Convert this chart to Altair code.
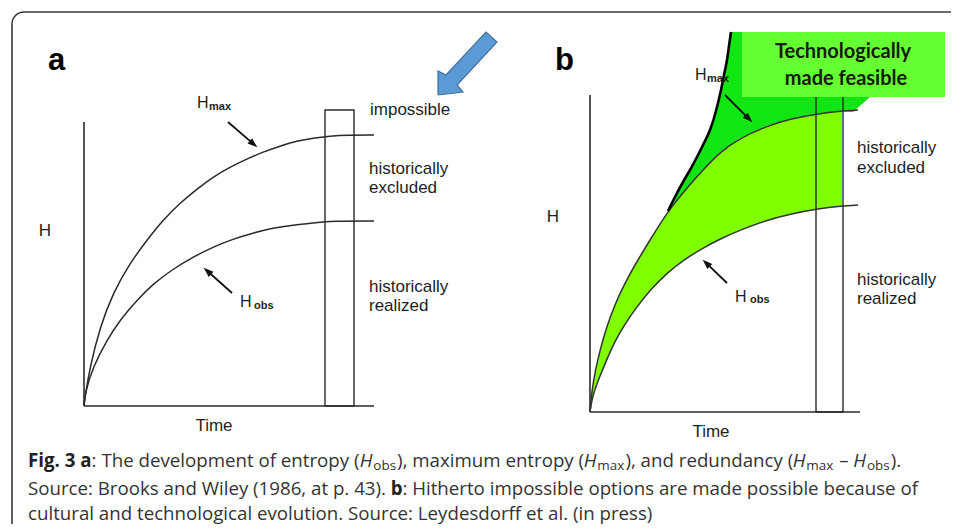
import math
import altair as alt
import pandas as pd

# ------------------------------------------------------------------
# Values (page pixel units, y downward)
# ------------------------------------------------------------------
# Panel a : H_max and H_obs over time
a_time_hmax = [84, 85, 90, 100, 113, 130, 147, 163, 180, 197, 213, 230, 247, 263, 280, 297, 313, 330, 347, 374]
a_hmax = [406, 397, 367, 327, 293, 263, 240, 220, 203, 189, 177, 167, 159, 152, 146, 141, 138, 136, 135, 135]
a_time_hobs = [84, 85, 93, 107, 120, 137, 153, 173, 193, 213, 233, 253, 273, 293, 313, 333, 374]
a_hobs = [406, 393, 367, 340, 320, 300, 284, 269, 257, 247, 239, 233, 228, 225, 223, 221, 221]

# Panel b : old H_max and H_obs on a common time grid
b_time = [590, 592, 595, 600, 607, 615, 625, 636, 650, 668, 685, 703, 720, 740, 767, 790, 817, 842, 858]
b_hmax_old = [412, 390, 372, 350, 326, 304, 283, 263, 240, 211, 190, 170, 152, 138, 126, 119, 114, 111, 110]
b_hobs = [412, 399, 389, 376, 359, 341, 324, 308, 290, 272, 259, 248, 239, 230, 220, 214, 209, 206, 205]
# technologically extended H_max
b_new_time = [668, 676, 683, 690, 697, 703, 710, 714, 718, 721, 724, 727, 729, 731]
b_new_hmax = [211, 195, 182, 170, 157, 145, 130, 118, 103, 90, 75, 60, 46, 32]
# corner of the feasible region (under the label box)
feasible_corner_x = [880, 870, 853]
feasible_corner_y = [32, 97, 112]

# frames (axes, boxes)
axis_x1 = [84, 84, 590, 590]
axis_y1 = [122, 406, 95, 412]
axis_x2 = [84, 374, 590, 860]
axis_y2 = [406, 406, 412, 412]
window_x1 = [325, 816]
window_x2 = [354, 843]
window_y1 = [110, 82]
window_y2 = [406, 412]

# arrows (tail -> tip)
arrow_tail_x = [228, 232, 725, 727]
arrow_tail_y = [122, 293, 95, 283]
arrow_tip_x = [257, 204, 752, 703]
arrow_tip_y = [147, 268, 122, 260]

# blue block arrow outline
blue_x = [438, 463, 457, 497, 486, 446, 438, 438]
blue_y = [95, 92, 85, 42, 32, 75, 71, 95]

# text labels
side_text = ["impossible", "historically", "excluded", "historically", "realized",
             "historically", "excluded", "historically", "realized"]
side_x = [370, 369, 369, 369, 369, 857, 857, 857, 857]
side_y = [115, 174, 193, 292, 311, 153, 173, 285, 304]

center_text = ["Time", "Time", "H", "H"]
center_x = [214, 711, 45, 553]
center_y = [431, 437, 236, 222]

curve_h_x = [197, 240, 695, 735]
curve_h_y = [108, 307, 80, 302]
curve_sub_text = ["max", "obs", "max", "obs"]
curve_sub_x = [209, 254, 707, 750]
curve_sub_y = [110, 309, 82, 303]

panel_text = ["a", "b"]
panel_x = [48, 555]
panel_y = [70, 70]

box_text = ["Technologically", "made feasible"]
box_x = [843, 846]
box_y = [58, 85]

cap1_text = ["Fig. 3 a", ": The development of entropy (", "H", "obs", "), maximum entropy (",
             "H", "max", "), and redundancy (", "H", "max", " – ", "H", "obs", ")."]
cap1_style = ["bold", "reg", "ital", "sub", "reg", "ital", "sub", "reg", "ital", "sub",
              "reg", "ital", "sub", "reg"]
cap2_text = ["Source: Brooks and Wiley (1986, at p. 43). ", "b",
             ": Hitherto impossible options are made possible because of"]
cap2_style = ["reg", "bold", "reg"]
cap3_text = ["cultural and technological evolution. Source: Leydesdorff et al. (in press)"]
cap3_style = ["reg"]

# ------------------------------------------------------------------
# Caption layout (Open Sans advance widths, units per em = 2048)
# ------------------------------------------------------------------
CAP_SIZE = 18.7
SUB_SCALE = 0.72
SUB_DROP = 3
REG = {' ': 532, '(': 578, ')': 578, ',': 502, '.': 545, ':': 545, '–': 1024,
       'B': 1327, 'F': 1057, 'H': 1511, 'L': 1063, 'S': 1124, 'T': 1133, 'W': 1896,
       'a': 1139, 'b': 1255, 'c': 975, 'd': 1255, 'e': 1149, 'f': 694, 'g': 1122,
       'h': 1257, 'i': 518, 'k': 1075, 'l': 518, 'm': 1905, 'n': 1257, 'o': 1237,
       'p': 1255, 'r': 836, 's': 977, 't': 723, 'u': 1257, 'v': 1026, 'x': 1073,
       'y': 1028, 'z': 977}
for d in "0123456789":
    REG[d] = 1171
BOLD = {' ': 532, 'F': 1145, 'i': 621, 'g': 1153, '.': 606, '3': 1171, 'a': 1208, 'b': 1286}
ITAL = {'H': 1489}


def text_width(s, style):
    if style == "bold":
        units = sum(BOLD.get(c, REG.get(c, 1150) * 1.05) for c in s)
        return units / 2048 * CAP_SIZE
    if style == "ital":
        units = sum(ITAL.get(c, REG.get(c, 1150)) for c in s)
        return units / 2048 * CAP_SIZE
    if style == "sub":
        units = sum(REG.get(c, 1150) for c in s)
        return units / 2048 * CAP_SIZE * SUB_SCALE
    units = sum(REG.get(c, 1150) for c in s)
    return units / 2048 * CAP_SIZE


cap_rows = []
for texts, styles, base in [(cap1_text, cap1_style, 467), (cap2_text, cap2_style, 495),
                            (cap3_text, cap3_style, 520)]:
    cx = 28.0
    for t, s in zip(texts, styles):
        lead = len(t) - len(t.lstrip(" "))
        x0 = cx + text_width(" " * lead, s)
        cap_rows.append({"x": x0, "y": base + (SUB_DROP if s == "sub" else 0), "text": t.strip(" "),
                         "style": s})
        cx += text_width(t, s) + (1.0 if s == "sub" else 0)
cap_df = pd.DataFrame(cap_rows)

# ------------------------------------------------------------------
# Scales: one unit = one page pixel
# ------------------------------------------------------------------
X = alt.X("x:Q", scale=alt.Scale(domain=[8, 951], nice=False, zero=False), axis=None)
Y = alt.Y("y:Q", scale=alt.Scale(domain=[8, 524], nice=False, zero=False, reverse=True), axis=None)

INK = "#2a2a2a"
layers = []

# outer rounded frame
frame_df = pd.DataFrame({"x": [12], "x2": [985], "y": [12], "y2": [570]})
layers.append(alt.Chart(frame_df).mark_rect(filled=False, stroke="#3a3a3a", strokeWidth=1.6,
                                            cornerRadius=12).encode(x=X, x2="x2:Q", y=Y, y2="y2:Q"))

# ---- panel b fills ----
poly_x = b_new_time + feasible_corner_x + [t for t in reversed(b_time) if 668 <= t <= 842]
poly_y = b_new_hmax + feasible_corner_y + [h for t, h in zip(reversed(b_time), reversed(b_hmax_old)) if 668 <= t <= 842]
poly_df = pd.DataFrame({"x": poly_x, "y": poly_y, "i": range(len(poly_x))})
layers.append(alt.Chart(poly_df).mark_line(fill="#12e612", strokeWidth=0, interpolate="linear")
              .encode(x=X, y=Y, order="i:Q"))

band_df = pd.DataFrame({"x": b_time, "y": b_hmax_old, "y2": b_hobs})
band_df = band_df[band_df["x"] <= 842]
layers.append(alt.Chart(band_df).mark_area(color="#80ff00", opacity=1, interpolate="basis")
              .encode(x=X, y=Y, y2="y2:Q"))

# ---- frames / axes ----
win_df = pd.DataFrame({"x": window_x1, "x2": window_x2, "y": window_y1, "y2": window_y2})
layers.append(alt.Chart(win_df).mark_rect(filled=False, stroke=INK, strokeWidth=1.4)
              .encode(x=X, x2="x2:Q", y=Y, y2="y2:Q"))
ax_df = pd.DataFrame({"x": axis_x1, "y": axis_y1, "x2": axis_x2, "y2": axis_y2})
layers.append(alt.Chart(ax_df).mark_rule(color=INK, strokeWidth=1.6)
              .encode(x=X, y=Y, x2="x2:Q", y2="y2:Q"))

# ---- curves ----
def curve(xs, ys, color, width, interp="basis"):
    df = pd.DataFrame({"x": xs, "y": ys, "i": range(len(xs))})
    return alt.Chart(df).mark_line(color=color, strokeWidth=width, interpolate=interp).encode(
        x=X, y=Y, order="i:Q")

layers.append(curve(a_time_hmax, a_hmax, INK, 1.5))
layers.append(curve(a_time_hobs, a_hobs, INK, 1.5))
layers.append(curve(b_time, b_hmax_old, "#333333", 1.5))
layers.append(curve(b_time, b_hobs, "#333333", 1.5))
layers.append(curve(b_new_time, b_new_hmax, "#000000", 2.6, "monotone"))

# ---- label box ----
box_df = pd.DataFrame({"x": [742], "x2": [945], "y": [32], "y2": [97]})
layers.append(alt.Chart(box_df).mark_rect(color="#66ff33").encode(x=X, x2="x2:Q", y=Y, y2="y2:Q"))
layers.append(alt.Chart(pd.DataFrame({"x": box_x, "y": box_y, "text": box_text}))
              .mark_text(font="Lato", fontWeight="bold", fontSize=20, color="#102008",
                         align="center", baseline="alphabetic")
              .encode(x=X, y=Y, text="text:N"))

# ---- black arrows ----
arr = pd.DataFrame({"tx": arrow_tail_x, "ty": arrow_tail_y, "hx": arrow_tip_x, "hy": arrow_tip_y})
dx = arr["hx"] - arr["tx"]
dy = arr["hy"] - arr["ty"]
ln = (dx ** 2 + dy ** 2) ** 0.5
ux, uy = dx / ln, dy / ln
shaft = pd.DataFrame({"x": arr["tx"], "y": arr["ty"], "x2": arr["hx"] - 6 * ux, "y2": arr["hy"] - 6 * uy})
heads = pd.DataFrame({"x": arr["hx"] - 4.5 * ux, "y": arr["hy"] - 4.5 * uy,
                      "angle": [(math.degrees(math.atan2(a, -b)) + 360) % 360 for a, b in zip(dx, dy)]})
layers.append(alt.Chart(shaft).mark_rule(color="#111111", strokeWidth=1.8)
              .encode(x=X, y=Y, x2="x2:Q", y2="y2:Q"))
layers.append(alt.Chart(heads).mark_point(shape="M0,-1L0.7,1L-0.7,1Z", filled=True, color="#111111",
                                          size=100, opacity=1)
              .encode(x=X, y=Y, angle=alt.Angle("angle:Q", scale=None)))

# ---- blue arrow ----
blue_df = pd.DataFrame({"x": blue_x, "y": blue_y, "i": range(len(blue_x))})
layers.append(alt.Chart(blue_df).mark_line(fill="#5b9bd5", stroke="#41719c", strokeWidth=1.2,
                                           interpolate="linear")
              .encode(x=X, y=Y, order="i:Q"))

# ---- diagram texts ----
layers.append(alt.Chart(pd.DataFrame({"x": side_x, "y": side_y, "text": side_text}))
              .mark_text(font="Liberation Sans", fontSize=17, color="#1e1e1e", align="left",
                         baseline="alphabetic").encode(x=X, y=Y, text="text:N"))
layers.append(alt.Chart(pd.DataFrame({"x": center_x, "y": center_y, "text": center_text}))
              .mark_text(font="Liberation Sans", fontSize=17, color="#1e1e1e", align="center",
                         baseline="alphabetic").encode(x=X, y=Y, text="text:N"))
layers.append(alt.Chart(pd.DataFrame({"x": curve_h_x, "y": curve_h_y, "text": ["H"] * 4}))
              .mark_text(font="Liberation Sans", fontSize=16, color="#1e1e1e", align="left",
                         baseline="alphabetic").encode(x=X, y=Y, text="text:N"))
layers.append(alt.Chart(pd.DataFrame({"x": curve_sub_x, "y": curve_sub_y, "text": curve_sub_text}))
              .mark_text(font="Liberation Sans", fontSize=11, fontWeight="bold", color="#1e1e1e",
                         align="left", baseline="alphabetic").encode(x=X, y=Y, text="text:N"))
layers.append(alt.Chart(pd.DataFrame({"x": panel_x, "y": panel_y, "text": panel_text}))
              .mark_text(font="Liberation Sans", fontSize=31, fontWeight="bold", color="#000000",
                         align="left", baseline="alphabetic").encode(x=X, y=Y, text="text:N"))

# ---- caption ----
CAP_INK = "#333333"
for style, kw in [("reg", dict(fontSize=CAP_SIZE)),
                  ("bold", dict(fontSize=CAP_SIZE, fontWeight="bold")),
                  ("ital", dict(fontSize=CAP_SIZE, fontStyle="italic")),
                  ("sub", dict(fontSize=CAP_SIZE * SUB_SCALE))]:
    sub = cap_df[cap_df["style"] == style]
    layers.append(alt.Chart(sub).mark_text(font="Open Sans", color="#1f1f1f" if style == "bold" else CAP_INK,
                                           align="left", baseline="alphabetic", **kw)
                  .encode(x=X, y=Y, text="text:N"))

chart = alt.layer(*layers).properties(
    width=943, height=516, padding=0, autosize="none", background="white"
).configure_view(stroke=None)

chart.save("out.html", embed_options={"renderer": "svg", "actions": False})
